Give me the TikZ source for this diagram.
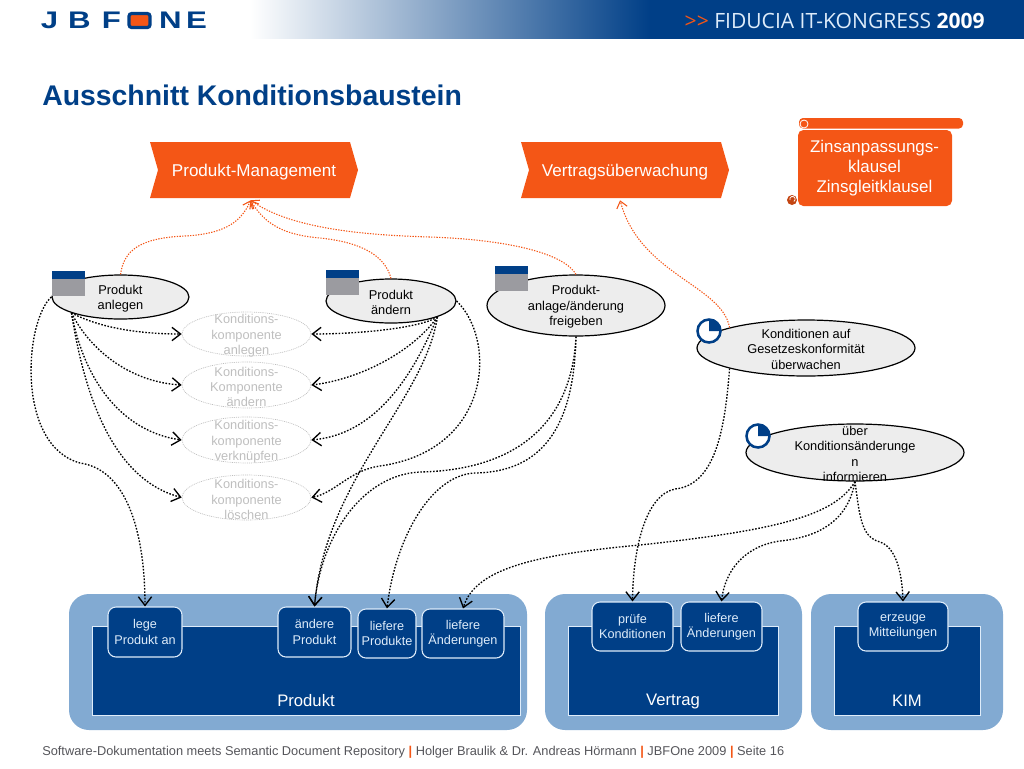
\documentclass[tikz,border=0pt]{standalone}
\usepackage{fontspec}
\usepackage{xcolor}
\usepackage{tikz}
\usetikzlibrary{arrows.meta,shapes.geometric,shapes.symbols}
\setmainfont{Liberation Sans}
\newfontfamily\kongressfont{Open Sans}
\definecolor{JBFBlue}{RGB}{0,63,135}
\definecolor{JBFLight}{RGB}{130,170,210}
\definecolor{JBFOrange}{RGB}{244,86,22}
\definecolor{JBFOval}{RGB}{237,237,237}
\definecolor{JBFGray}{RGB}{155,155,160}
\definecolor{JBFFaint}{RGB}{190,190,190}
\definecolor{JBFEdge}{RGB}{222,236,250}
\definecolor{JBFFoot}{RGB}{85,85,90}
\begin{document}
\begin{tikzpicture}[
    x=0.75pt,y=-0.75pt,
    logotxt/.style={inner sep=0pt, text=JBFBlue, font=\fontsize{18}{18}\selectfont\bfseries},
    chevron/.style={signal, signal to=east, signal from=west, signal pointer angle=148, fill=JBFOrange, text=white, inner sep=0pt, minimum height=56*0.75pt, text depth=0pt, font=\fontsize{12.8}{15}\selectfont},
    oval/.style={ellipse, draw=black, line width=0.9pt, fill=JBFOval, inner sep=0pt},
    ovaltxt/.style={align=center, inner sep=0pt, yshift=-1pt, text=black, font=\fontsize{9.6}{11.4}\selectfont},
    faint/.style={ellipse, draw=JBFFaint, line width=0.5pt, dash pattern=on 0.7pt off 0.7pt, inner sep=0pt, minimum width=129*0.75pt},
    fainttxt/.style={align=center, inner sep=0pt, yshift=-1.5pt, text=JBFFaint, font=\fontsize{9.6}{11.5}\selectfont},
    outerbox/.style={fill=JBFLight, rounded corners=15pt, minimum height=136*0.75pt, inner sep=0pt},
    innerbox/.style={fill=JBFBlue, draw=JBFEdge, line width=0.7pt, minimum height=89*0.75pt, inner sep=0pt},
    opbox/.style={fill=JBFBlue, draw=JBFEdge, line width=0.8pt, rounded corners=6pt, inner sep=0pt, align=center, text=JBFEdge, font=\fontsize{9.5}{11.4}\selectfont},
    blocklab/.style={inner sep=0pt, text=white, font=\fontsize{12.5}{15}\selectfont},
    calls/.style={-{Straight Barb[length=6.5pt,width=10pt]}, line width=1pt, dash pattern=on 1.2pt off 1.2pt, draw=black},
    realizes/.style={-{Straight Barb[length=5pt,width=8pt]}, line width=0.8pt, dash pattern=on 1pt off 1pt, draw=JBFOrange}
  ]
    \useasboundingbox (0,0) rectangle (1024,768);
    % head
    \shade[left color=white, right color=JBFBlue] (250,0) rectangle (650,38.5);
    \fill[JBFBlue] (650,0) rectangle (1024,38.5);
    \foreach \x/\lab in {49.5/J,79.5/B,111.5/F,170.5/N,196.5/E} {
      \node[logotxt] (logo\lab) at (\x,20.5) {\scalebox{1.3}[1]{\lab}};
    }
    \node[draw=JBFBlue, line width=2.4pt, fill=JBFOrange, rounded corners=2pt, minimum width=21*0.75pt, minimum height=14*0.75pt, inner sep=0pt] (logoO) at (139.5,20.5) {};
    \node[anchor=east, inner sep=0pt, text=JBFEdge, font=\kongressfont\fontsize{15.8}{20}\selectfont] (kongress) at (985,20.5) {{\color{JBFOrange}>>} FIDUCIA IT-KONGRESS \textcolor{white}{\bfseries 2009}};
    \node[anchor=west, inner sep=0pt, text=JBFBlue, font=\fontsize{21.3}{25}\selectfont\bfseries] (title) at (42,95) {Ausschnitt Konditionsbaustein};
    % orange
    \node[chevron, minimum width=208*0.75pt] (pm) at (254,170) {Produkt-Management};
    \node[chevron, minimum width=208*0.75pt] (vu) at (625,170) {Vertragsüberwachung};
    \fill[JBFOrange, rounded corners=3pt] (799,118) rectangle (963,128.5);
    \fill[JBFOrange, rounded corners=4pt] (798,130) -- (952,130) -- (952,206) -- (798,206) -- cycle;
    \fill[JBFOrange!80!black] (792,200) circle[radius=5];
    \draw[white, line width=0.6pt] (804,124) circle[radius=4];
    \draw[white, line width=0.6pt] (790,200) arc[start angle=200, end angle=-60, radius=2pt];
    \node[inner sep=0pt, align=center, text=white, yshift=-1.5pt, font=\fontsize{12.7}{15}\selectfont] (zins) at (874.5,166) {Zinsanpassungs-\\klausel\\Zinsgleitklausel};
    % ovals
    \node[oval, minimum width=137*0.75pt, minimum height=44*0.75pt, label={[ovaltxt]center:{Produkt\\anlegen}}] (pa) at (120.5,297) {};
    \node[oval, minimum width=130*0.75pt, minimum height=44*0.75pt, label={[ovaltxt]center:{Produkt\\ändern}}] (pc) at (391,301) {};
    \node[oval, minimum width=178*0.75pt, minimum height=61*0.75pt, label={[ovaltxt]center:{Produkt-\\anlage/änderung\\freigeben}}] (pf) at (576,305.5) {};
    \node[oval, minimum width=218*0.75pt, minimum height=56*0.75pt, label={[ovaltxt]center:{Konditionen auf\\Gesetzeskonformität\\überwachen}}] (ka) at (806,348) {};
    \node[oval, minimum width=218*0.75pt, minimum height=57*0.75pt, label={[ovaltxt]center:{über\\Konditionsänderunge\\n\\informieren}}] (ue) at (855,452.5) {};
    \foreach \x/\y in {52/271,326/270,495/266} {
      \fill[JBFGray] (\x,\y) rectangle (\x+33,\y+25);
      \fill[JBFBlue] (\x,\y) rectangle (\x+33,\y+7.5);
    }
    \foreach \x/\y in {709/331,758/436} {
      \draw[JBFBlue, line width=1.9pt, fill=white] (\x,\y) circle[radius=11.5];
      \fill[JBFBlue] (\x,\y) -- (\x,\y-11) arc[start angle=90, end angle=0, radius=8.25pt] -- cycle;
    }
    \node[faint, minimum height=44*0.75pt, label={[fainttxt]center:{Konditions-\\komponente\\anlegen}}] (k1) at (246.5,334) {};
    \node[faint, minimum height=46*0.75pt, label={[fainttxt]center:{Konditions-\\Komponente\\ändern}}] (k2) at (246.5,385) {};
    \node[faint, minimum height=46*0.75pt, label={[fainttxt]center:{Konditions-\\komponente\\verknüpfen}}] (k3) at (246.5,440) {};
    \node[faint, minimum height=45*0.75pt, label={[fainttxt]center:{Konditions-\\komponente\\löschen}}] (k4) at (246.5,497.5) {};
    % bausteine
    \foreach \x/\w/\name in {298/458/prod,673.5/257/vert,907/192/kim} {
      \node[outerbox, minimum width=\w*0.75pt] (\name) at (\x,662) {};
    }
    \foreach \x/\w/\name/\lab in {306/428/prodin/Produkt,673/210/vertin/Vertrag,907/146/kimin/KIM} {
      \node[innerbox, minimum width=\w*0.75pt] (\name) at (\x,670.5) {};
      \node[blocklab] (\name lab) at (\x,701) {\lab};
    }
    \node[opbox, minimum width=74*0.75pt, minimum height=50*0.75pt] (lege) at (145,632) {lege\\Produkt an};
    \node[opbox, minimum width=73*0.75pt, minimum height=50*0.75pt] (aen) at (314.5,632) {ändere\\Produkt};
    \node[opbox, minimum width=58*0.75pt, minimum height=49*0.75pt] (lpr) at (387,633.5) {liefere\\Produkte};
    \node[opbox, minimum width=82*0.75pt, minimum height=49*0.75pt] (lae) at (463,633.5) {liefere\\Änderungen};
    \node[opbox, minimum width=81*0.75pt, minimum height=49*0.75pt] (prf) at (632.5,626.5) {prüfe\\Konditionen};
    \node[opbox, minimum width=81*0.75pt, minimum height=49*0.75pt] (lvt) at (721.5,626.5) {liefere\\Änderungen};
    \node[opbox, minimum width=90*0.75pt, minimum height=49*0.75pt] (erz) at (903,626.5) {erzeuge\\Mitteilungen};
    % orange links
    \draw[realizes] (pa.north) .. controls (124,250) and (140,238) .. (185,236) .. controls (220,234) and (240,225) .. ([xshift=-2.5pt,yshift=-1.5pt]pm.south);
    \draw[realizes] (pc.north) .. controls (385,255) and (360,242) .. (320,238) .. controls (285,235) and (265,225) .. ([xshift=-2.5pt,yshift=-1.5pt]pm.south);
    \draw[realizes] (pf.north) .. controls (565,255) and (515,240) .. (430,237) .. controls (360,235) and (290,228) .. ([xshift=-2.5pt,yshift=-1.5pt]pm.south);
    \draw[realizes] (ka.165) .. controls (722,285) and (640,275) .. ([xshift=-3.7pt,yshift=-1.5pt]vu.south);
    % black links
    \draw[calls] (pa.198) .. controls (100,328) and (140,334) .. (k1.west);
    \draw[calls] (pa.198) .. controls (90,350) and (130,382) .. (k2.west);
    \draw[calls] (pa.198) .. controls (85,385) and (125,432) .. (k3.west);
    \draw[calls] (pa.198) .. controls (85,400) and (115,480) .. (k4.west);
    \draw[calls] (pa.west) .. controls (25,320) and (15,445) .. (80,463) .. controls (130,470) and (145,540) .. (lege.north);
    \draw[calls] (pc.341) .. controls (420,328) and (360,334) .. (k1.east);
    \draw[calls] (pc.341) .. controls (410,355) and (355,380) .. (k2.east);
    \draw[calls] (pc.341) .. controls (405,395) and (365,435) .. (k3.east);
    \draw[calls] (pc.east) .. controls (497,340) and (492,450) .. (380,466) .. controls (350,470) and (335,493) .. (k4.east);
    \draw[calls] (pc.341) .. controls (425,400) and (325,480) .. (aen.north);
    \draw[calls] (pf.south) .. controls (572,420) and (520,470) .. (420,472) .. controls (360,475) and (320,540) .. (aen.north);
    \draw[calls] (pf.south) .. controls (574,430) and (540,472) .. (475,473) .. controls (430,475) and (395,540) .. (lpr.north);
    \draw[calls] (ka.195) .. controls (725,430) and (715,485) .. (675,489) .. controls (645,495) and (633,550) .. (prf.north);
    \draw[calls] (ue.south) .. controls (835,515) and (780,530) .. (640,545) .. controls (530,555) and (475,570) .. (lae.north);
    \draw[calls] (ue.south) .. controls (848,520) and (820,537) .. (780,541) .. controls (745,546) and (725,570) .. (lvt.north);
    \draw[calls] (ue.south) .. controls (860,520) and (862,537) .. (880,542) .. controls (895,547) and (902,570) .. (erz.north);
    % foot
    \node[anchor=west, inner sep=0pt, text=JBFFoot, font=\fontsize{9.6}{12}\selectfont] (foot) at (42,752) {Software-Dokumentation meets Semantic Document Repository {\color{JBFOrange}\bfseries |} Holger Braulik \& Dr. Andreas Hörmann {\color{JBFOrange}\bfseries |} JBFOne 2009 {\color{JBFOrange}\bfseries |} Seite 16};
  \end{tikzpicture}
\end{document}
